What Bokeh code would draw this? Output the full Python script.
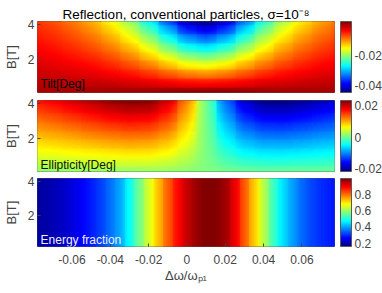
import numpy as np
from bokeh.plotting import figure
from bokeh.layouts import column
from bokeh.models import LinearColorMapper, ColorBar, FixedTicker, Label, Title
from bokeh.embed import file_html
from bokeh.resources import INLINE

# ---------------- data ----------------
x_cols = [-0.08, -0.07, -0.06, -0.05, -0.04, -0.03, -0.02, -0.01, 0.0,
          0.01, 0.02, 0.03, 0.04, 0.05, 0.06, 0.07, 0.08]
b_rows = [0.15, 0.65, 1.15, 1.65, 2.15, 2.65, 3.15, 3.65, 4.15]

tilt = [
    [0.0002, 0.0003, 0.0004, 0.0004, 0.0006, 0.0008, 0.0010, 0.0013, 0.0016, 0.0017, 0.0016, 0.0013, 0.0010, 0.0007, 0.0005, 0.0004, 0.0003],
    [-0.0006, -0.0007, -0.0009, -0.0011, -0.0014, -0.0019, -0.0025, -0.0032, -0.0039, -0.0042, -0.0038, -0.0031, -0.0023, -0.0018, -0.0013, -0.0010, -0.0008],
    [-0.0013, -0.0016, -0.0021, -0.0026, -0.0034, -0.0045, -0.0059, -0.0077, -0.0094, -0.0100, -0.0091, -0.0074, -0.0056, -0.0042, -0.0032, -0.0025, -0.0020],
    [-0.0021, -0.0026, -0.0033, -0.0041, -0.0054, -0.0071, -0.0094, -0.0123, -0.0149, -0.0159, -0.0144, -0.0117, -0.0089, -0.0067, -0.0051, -0.0039, -0.0031],
    [-0.0029, -0.0036, -0.0045, -0.0056, -0.0073, -0.0097, -0.0129, -0.0168, -0.0204, -0.0217, -0.0198, -0.0160, -0.0122, -0.0092, -0.0070, -0.0054, -0.0042],
    [-0.0037, -0.0045, -0.0057, -0.0072, -0.0093, -0.0123, -0.0164, -0.0213, -0.0259, -0.0276, -0.0251, -0.0203, -0.0155, -0.0116, -0.0088, -0.0068, -0.0054],
    [-0.0045, -0.0055, -0.0069, -0.0087, -0.0113, -0.0149, -0.0198, -0.0258, -0.0314, -0.0335, -0.0304, -0.0246, -0.0187, -0.0141, -0.0107, -0.0083, -0.0065],
    [-0.0053, -0.0064, -0.0081, -0.0102, -0.0133, -0.0175, -0.0233, -0.0303, -0.0369, -0.0393, -0.0358, -0.0289, -0.0220, -0.0166, -0.0126, -0.0097, -0.0077],
    [-0.0061, -0.0074, -0.0093, -0.0117, -0.0153, -0.0201, -0.0268, -0.0349, -0.0424, -0.0447, -0.0411, -0.0332, -0.0253, -0.0191, -0.0145, -0.0112, -0.0088],
]

ellipticity = [
    [0.0015, 0.0015, 0.0016, 0.0017, 0.0017, 0.0018, 0.0018, 0.0016, 0.0012, 0.0007, 0.0001, -0.0002, -0.0004, -0.0004, -0.0003, -0.0003, -0.0002],
    [0.0034, 0.0036, 0.0038, 0.0041, 0.0043, 0.0045, 0.0044, 0.0039, 0.0026, 0.0006, -0.0013, -0.0026, -0.0030, -0.0031, -0.0029, -0.0027, -0.0024],
    [0.0053, 0.0056, 0.0061, 0.0065, 0.0069, 0.0072, 0.0071, 0.0061, 0.0039, 0.0005, -0.0028, -0.0049, -0.0057, -0.0058, -0.0055, -0.0051, -0.0046],
    [0.0072, 0.0077, 0.0083, 0.0089, 0.0095, 0.0099, 0.0097, 0.0084, 0.0052, 0.0005, -0.0042, -0.0072, -0.0084, -0.0085, -0.0081, -0.0075, -0.0069],
    [0.0091, 0.0098, 0.0105, 0.0114, 0.0121, 0.0126, 0.0124, 0.0106, 0.0065, 0.0004, -0.0057, -0.0095, -0.0111, -0.0112, -0.0107, -0.0099, -0.0091],
    [0.0110, 0.0118, 0.0128, 0.0138, 0.0147, 0.0153, 0.0150, 0.0129, 0.0078, 0.0003, -0.0071, -0.0118, -0.0137, -0.0139, -0.0132, -0.0123, -0.0113],
    [0.0129, 0.0139, 0.0150, 0.0162, 0.0173, 0.0180, 0.0177, 0.0151, 0.0092, 0.0002, -0.0086, -0.0142, -0.0164, -0.0166, -0.0158, -0.0147, -0.0135],
    [0.0148, 0.0159, 0.0172, 0.0186, 0.0199, 0.0207, 0.0204, 0.0174, 0.0105, 0.0002, -0.0100, -0.0165, -0.0191, -0.0193, -0.0184, -0.0171, -0.0158],
    [0.0167, 0.0180, 0.0195, 0.0210, 0.0225, 0.0232, 0.0230, 0.0197, 0.0118, 0.0001, -0.0114, -0.0188, -0.0218, -0.0219, -0.0210, -0.0195, -0.0180],
]

x_energy = [-0.08, -0.075, -0.07, -0.065, -0.06, -0.055, -0.05, -0.045, -0.04, -0.035,
            -0.03, -0.025, -0.02, -0.015, -0.01, -0.005, 0.0, 0.005, 0.01, 0.015,
            0.02, 0.025, 0.03, 0.035, 0.04, 0.045, 0.05, 0.055, 0.06, 0.065,
            0.07, 0.075, 0.08]
energy = [0.175, 0.19, 0.20, 0.215, 0.235, 0.26, 0.285, 0.315, 0.355, 0.40,
          0.48, 0.565, 0.65, 0.735, 0.815, 0.885, 0.94, 0.98, 1.0, 0.995,
          0.975, 0.91, 0.82, 0.73, 0.625, 0.525, 0.45, 0.395, 0.35, 0.32,
          0.30, 0.285, 0.275]

x_ticks = [-0.06, -0.04, -0.02, 0.0, 0.02, 0.04, 0.06]
x_tick_labels = ["-0.06", "-0.04", "-0.02", "0", "0.02", "0.04", "0.06"]
b_ticks = [2, 4]
b_tick_labels = ["2", "4"]

tilt_clim = (-0.0445, 0.002)
tilt_cb_ticks = [-0.04, -0.02]
tilt_cb_labels = ["-0.04", "-0.02"]
ell_clim = (-0.0219, 0.0232)
ell_cb_ticks = [-0.02, 0.0, 0.02]
ell_cb_labels = ["-0.02", "0", "0.02"]
en_clim = (0.158, 1.0)
en_cb_ticks = [0.2, 0.4, 0.6, 0.8]
en_cb_labels = ["0.2", "0.4", "0.6", "0.8"]

x_lim = (-0.078, 0.077)
b_lim = (0.15, 4.15)

title_text = "Reflection, conventional particles, σ=10⁻⁸"
x_label = "Δω/ωₚ₁"

# ---------------- style ----------------
FONT = "Liberation Sans"
OUTLINE = "#5a5a5a"
N_BANDS = 160


def jet_color(t):
    t = min(max(t, 0.0), 1.0)
    r = min(max(1.5 - abs(4 * t - 3), 0), 1)
    g = min(max(1.5 - abs(4 * t - 2), 0), 1)
    b = min(max(1.5 - abs(4 * t - 1), 0), 1)
    return "#%02x%02x%02x" % (round(r * 255), round(g * 255), round(b * 255))


JET = [jet_color(i / 255) for i in range(256)]


def make_panel(frame_h, top, bottom, xaxis):
    p = figure(frame_width=297, frame_height=frame_h, x_range=x_lim, y_range=b_lim,
               output_backend="svg", toolbar_location=None, title=None,
               x_axis_location="below" if xaxis else None,
               min_border_left=29, min_border_right=50,
               min_border_top=top, min_border_bottom=bottom)
    p.grid.visible = False
    p.outline_line_color = OUTLINE
    p.outline_line_width = 1
    ya = p.yaxis[0]
    ya.ticker = FixedTicker(ticks=b_ticks)
    ya.major_label_overrides = dict(zip(b_ticks, b_tick_labels))
    ya.axis_label = "B[T]"
    ya.axis_label_text_font = FONT
    ya.axis_label_text_font_size = "13px"
    ya.axis_label_text_font_style = "normal"
    ya.axis_label_standoff = 6
    ya.major_label_text_font = FONT
    ya.major_label_text_font_size = "12px"
    ya.major_label_standoff = 3
    ya.major_tick_in = 3
    ya.major_tick_out = 0
    ya.major_tick_line_color = "#444444"
    ya.minor_tick_line_color = None
    ya.axis_line_color = None
    if xaxis:
        xa = p.xaxis[0]
        xa.ticker = FixedTicker(ticks=x_ticks)
        xa.major_label_overrides = dict(zip(x_ticks, x_tick_labels))
        xa.major_label_text_font = FONT
        xa.major_label_text_font_size = "12px"
        xa.major_label_standoff = 8
        xa.major_tick_in = 3
        xa.major_tick_out = 0
        xa.major_tick_line_color = "#444444"
        xa.minor_tick_line_color = None
        xa.axis_line_color = None
        xa.axis_label = x_label
        xa.axis_label_text_font = FONT
        xa.axis_label_text_font_size = "13px"
        xa.axis_label_text_font_style = "normal"
        xa.axis_label_standoff = 1
    return p


def add_field(p, grid, xs, ys, clim):
    z = np.array(grid, dtype=float)
    xa = np.array(xs, dtype=float)
    ya = np.array(ys, dtype=float)
    lo, hi = clim
    mapper = LinearColorMapper(palette=JET, low=lo, high=hi)
    # coarse image underneath (fills anti-aliasing seams of the bands)
    dx = xa[1] - xa[0]
    dy = ya[1] - ya[0]
    p.image(image=[z], x=xa[0] - dx / 2, y=ya[0] - dy / 2, dw=dx * len(xa), dh=dy * len(ya),
            color_mapper=mapper)
    # filled contour bands on top
    X, Y = np.meshgrid(xa, ya)
    edges = np.linspace(lo, hi, N_BANDS + 1)
    levels = list(edges)
    levels[0] = min(lo, z.min()) - 1e-6
    levels[-1] = max(hi, z.max()) + 1e-6
    colors = [jet_color(((edges[i] + edges[i + 1]) / 2 - lo) / (hi - lo)) for i in range(N_BANDS)]
    cr = p.contour(X, Y, z, levels=levels, fill_color=colors, line_color=None)
    cr.fill_renderer.glyph.line_color = None
    return mapper


def add_colorbar(p, mapper, ticks, labels, bar_h):
    cb = ColorBar(color_mapper=mapper, ticker=FixedTicker(ticks=ticks),
                  major_label_overrides=dict(zip(ticks, labels)),
                  width=11, height=bar_h, padding=0, margin=0, label_standoff=3,
                  major_label_text_font=FONT, major_label_text_font_size="12px",
                  major_tick_line_color=None, minor_tick_line_color=None,
                  bar_line_color=OUTLINE, border_line_color=None,
                  background_fill_alpha=0, location=(6, 0))
    p.add_layout(cb, "right")


def add_text(p, x, y, text, color, size="12px"):
    p.add_layout(Label(x=x, y=y, text=text, text_color=color, text_font=FONT,
                       text_font_size=size, text_align="left", text_baseline="alphabetic"))


# Panel 1: tilt
p1 = make_panel(71, 21, 4, False)
p1.add_layout(Title(text=title_text, align="center", text_font=FONT, text_font_size="13.5px",
                    text_font_style="normal", text_color="#000000", standoff=0), "above")
m1 = add_field(p1, tilt, x_cols, b_rows, tilt_clim)
add_colorbar(p1, m1, tilt_cb_ticks, tilt_cb_labels, 71)
add_text(p1, -0.0764, 0.629, "Tilt[Deg]", "#000000")

# Panel 2: ellipticity
p2 = make_panel(71, 4, 4, False)
m2 = add_field(p2, ellipticity, x_cols, b_rows, ell_clim)
add_colorbar(p2, m2, ell_cb_ticks, ell_cb_labels, 71)
add_text(p2, -0.0764, 0.533, "Ellipticity[Deg]", "#0b1400")

# Panel 3: energy fraction (independent of B)
p3 = make_panel(68, 3, 47, True)
m3 = add_field(p3, [energy, energy], x_energy, list(b_lim), en_clim)
add_colorbar(p3, m3, en_cb_ticks, en_cb_labels, 68)
add_text(p3, -0.0764, 0.503, "Energy fraction", "#eeeeff")

layout = column(p1, p2, p3)
open("out.html", "w").write(file_html(layout, INLINE))
